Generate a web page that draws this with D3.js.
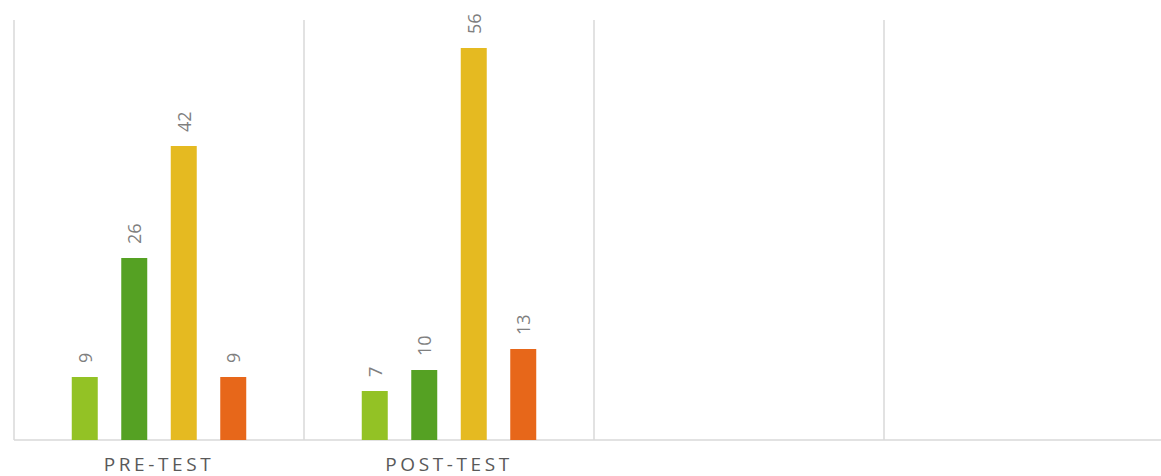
<!DOCTYPE html>
<html><head><meta charset="utf-8">
<script src="https://cdn.jsdelivr.net/npm/d3@7"></script>
<style>body{margin:0;background:#fff}svg{display:block}</style>
</head><body><svg id="c" width="1161" height="476"></svg>
<script>
const categories = ["PRE-TEST", "POST-TEST", "", ""];
const seriesNames = ["S1", "S2", "S3", "S4"];
const seriesColors = ["#93c225", "#55a123", "#e5ba21", "#e7671a"];
const values = [
  [9, 26, 42, 9],
  [7, 10, 56, 13],
  [null, null, null, null],
  [null, null, null, null]
];

const svg = d3.select("#c");
const x0 = 14, x1 = 1174, yTop = 20, yBase = 440;
const x = d3.scaleBand().domain(categories.map((d,i)=>i)).range([x0, x1]).paddingInner(0).paddingOuter(0);
const y = d3.scaleLinear().domain([0, 60]).range([yBase, yTop]);
const xs = d3.scaleBand().domain(seriesNames).range([0, x.bandwidth()]).paddingInner(0.475).paddingOuter(1.167);

const bounds = categories.map((d,i)=>x(i)).concat([x1]);
svg.append("g").selectAll("line").data(bounds).join("line")
  .attr("x1", d=>d).attr("x2", d=>d).attr("y1", yTop).attr("y2", yBase)
  .attr("stroke", "#d9d9d9").attr("stroke-width", 1.5);
svg.append("line").attr("x1", x0).attr("x2", x1).attr("y1", yBase).attr("y2", yBase)
  .attr("stroke", "#d9d9d9").attr("stroke-width", 1.5);

const groups = svg.append("g").selectAll("g").data(values).join("g")
  .attr("transform", (d,i)=>`translate(${x(i)},0)`);
groups.selectAll("rect").data(d=>d.map((v,j)=>({v,j})).filter(e=>e.v!=null)).join("rect")
  .attr("x", e=>xs(seriesNames[e.j])).attr("width", xs.bandwidth())
  .attr("y", e=>y(e.v)).attr("height", e=>yBase - y(e.v))
  .attr("fill", e=>seriesColors[e.j]);
groups.selectAll("text").data(d=>d.map((v,j)=>({v,j})).filter(e=>e.v!=null)).join("text")
  .attr("transform", e=>`translate(${xs(seriesNames[e.j]) + xs.bandwidth()/2},${y(e.v)-14}) rotate(-90)`)
  .attr("text-anchor", "start").attr("dominant-baseline", "central")
  .attr("font-family", "Open Sans, sans-serif").attr("font-size", 18)
  .attr("fill", "#7f7f7f").text(e=>e.v);

const xAxis = d3.axisBottom(x).tickSize(0).tickFormat(i=>categories[i]);
const ax = svg.append("g").attr("transform", `translate(0,${yBase})`).call(xAxis);
ax.select(".domain").remove();
ax.selectAll("text").attr("y", 31).attr("dy", 0)
  .attr("font-family", "Open Sans, sans-serif").attr("font-size", 19)
  .attr("letter-spacing", "3.6px").attr("fill", "#595959");
</script></body></html>
